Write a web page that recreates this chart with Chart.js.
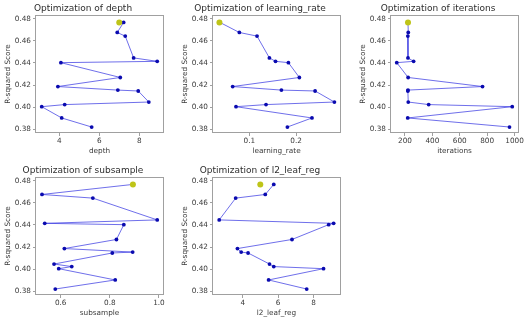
<!DOCTYPE html>
<html>
<head>
<meta charset="utf-8">
<script src="https://cdn.jsdelivr.net/npm/chart.js@4"></script>
<style>
body { margin: 0; background: #fff; }
#wrap { position: relative; width: 530px; height: 323px; overflow: hidden; }
#wrap canvas { position: absolute; }
</style>
</head>
<body>
<div id="wrap"></div>
<script>
// trials, sorted by score (best first)
var scores = [0.4767, 0.4676, 0.4643, 0.4446, 0.4415, 0.4403, 0.4269, 0.4187, 0.4155, 0.4147, 0.4047, 0.4024, 0.4005, 0.3903, 0.3821];
var depthVals = [7.22, 6.9, 7.3, 7.72, 8.9, 4.08, 7.05, 3.93, 6.93, 7.95, 8.48, 4.27, 3.12, 4.12, 5.62];
var lrVals = [0.037, 0.0786, 0.1164, 0.1429, 0.156, 0.1836, 0.207, 0.0643, 0.1686, 0.2407, 0.282, 0.1357, 0.0714, 0.234, 0.1814];
var iterVals = [222, 224, 221, 222, 263, 140, 223, 766, 222, 221, 224, 373, 983, 220, 963];
var subsampleVals = [0.894, 0.524, 0.731, 0.993, 0.535, 0.857, 0.827, 0.615, 0.893, 0.81, 0.573, 0.645, 0.592, 0.822, 0.578];
var l2Vals = [5.75, 5.27, 3.6, 2.67, 9.13, 8.85, 6.78, 3.7, 3.91, 4.3, 5.51, 5.75, 8.56, 5.46, 7.61];

// best parameters found
var bestScore = 0.4767;
var bestDepth = 7.0;
var bestLr = 0.036;
var bestIter = 222;
var bestSubsample = 0.894;
var bestL2 = 4.99;

// tick labels
var scoreTicks = [0.38, 0.40, 0.42, 0.44, 0.46, 0.48];
var depthTicks = [4, 6, 8];
var lrTicks = [0.1, 0.2];
var iterTicks = [200, 400, 600, 800, 1000];
var subsampleTicks = [0.6, 0.8, 1.0];
var l2Ticks = [4, 6, 8];

var YW = 33, XH = 22, TH = 12;
var FONT = 'DejaVu Sans';

var framePlugin = {
    id: 'frame',
    beforeDatasetsDraw: function (chart) {
        var a = chart.chartArea, c = chart.ctx;
        c.save();
        c.strokeStyle = '#a0a0a0';
        c.lineWidth = 1;
        c.strokeRect(Math.round(a.left) - 0.5, Math.round(a.top) + 0.5,
            Math.round(a.right - a.left) + 1, Math.round(a.bottom - a.top) - 1);
        c.restore();
    }
};

function DrawPanel(name, xs, best, ticks, digits, xmin, xmax, area) {
    var canvas = document.createElement('canvas');
    var w = YW * 2 + (area.r - area.l);
    var h = TH + (area.b - area.t) + XH;
    canvas.width = w;
    canvas.height = h;
    canvas.style.width = w + 'px';
    canvas.style.height = h + 'px';
    canvas.style.left = (area.l - YW) + 'px';
    canvas.style.top = (area.t - TH) + 'px';
    document.getElementById('wrap').appendChild(canvas);

    var pts = xs.map(function (x, i) { return { x: x, y: scores[i] }; });

    new Chart(canvas.getContext('2d'), {
        type: 'scatter',
        data: {
            datasets: [{
                data: [{ x: best, y: bestScore }],
                pointRadius: 3,
                pointBackgroundColor: 'rgb(190,196,24)',
                pointBorderWidth: 0,
                showLine: false
            }, {
                data: pts,
                showLine: true,
                borderColor: 'rgba(50,50,225,0.7)',
                borderWidth: 1,
                pointRadius: 1.9,
                pointBackgroundColor: 'rgb(10,10,175)',
                pointBorderWidth: 0
            }]
        },
        options: {
            responsive: false,
            animation: false,
            devicePixelRatio: 1,
            layout: { padding: { left: 0, right: YW, top: 0, bottom: 0 } },
            plugins: {
                legend: { display: false },
                tooltip: { enabled: false },
                title: {
                    display: true,
                    text: 'Optimization of ' + name,
                    color: '#2e2e2e',
                    font: { family: FONT, size: 9, weight: 'normal' },
                    padding: { top: 0, bottom: 1.2 }
                }
            },
            scales: {
                x: {
                    type: 'linear',
                    min: xmin,
                    max: xmax,
                    border: { display: false },
                    grid: { drawOnChartArea: false, drawTicks: true, tickLength: 3, color: '#a0a0a0' },
                    ticks: {
                        color: '#3a3a3a',
                        font: { family: FONT, size: 7.3 },
                        padding: 1,
                        maxRotation: 0,
                        autoSkip: false,
                        callback: function (v) { return v.toFixed(digits); }
                    },
                    title: { display: true, text: name, color: '#3a3a3a', font: { family: FONT, size: 7.3 }, padding: 0 },
                    afterBuildTicks: function (s) { s.ticks = ticks.map(function (v) { return { value: v }; }); },
                    afterFit: function (s) { s.height = XH; }
                },
                y: {
                    type: 'linear',
                    min: 0.3767,
                    max: 0.4834,
                    border: { display: false },
                    grid: { drawOnChartArea: false, drawTicks: true, tickLength: 3, color: '#a0a0a0' },
                    ticks: {
                        color: '#3a3a3a',
                        font: { family: FONT, size: 7.3 },
                        padding: 2,
                        autoSkip: false,
                        callback: function (v) { return v.toFixed(2); }
                    },
                    title: { display: true, text: 'R-squared Score', color: '#3a3a3a', font: { family: FONT, size: 7.3 }, padding: { top: 1, bottom: 0 } },
                    afterBuildTicks: function (s) { s.ticks = scoreTicks.map(function (v) { return { value: v }; }); },
                    afterFit: function (s) { s.width = YW; }
                }
            }
        },
        plugins: [framePlugin]
    });
}

DrawPanel('depth', depthVals, bestDepth, depthTicks, 0, 2.834, 9.19, { l: 36, r: 163, t: 15, b: 133 });
DrawPanel('learning_rate', lrVals, bestLr, lrTicks, 1, 0.0222, 0.294, { l: 213, r: 340, t: 15, b: 133 });
DrawPanel('iterations', iterVals, bestIter, iterTicks, 0, 98, 1025, { l: 391, r: 518, t: 15, b: 133 });
DrawPanel('subsample', subsampleVals, bestSubsample, subsampleTicks, 1, 0.4995, 1.0165, { l: 36, r: 163, t: 177, b: 295 });
DrawPanel('l2_leaf_reg', l2Vals, bestL2, l2Ticks, 0, 2.32, 9.49, { l: 213, r: 340, t: 177, b: 295 });
</script>
</body>
</html>
